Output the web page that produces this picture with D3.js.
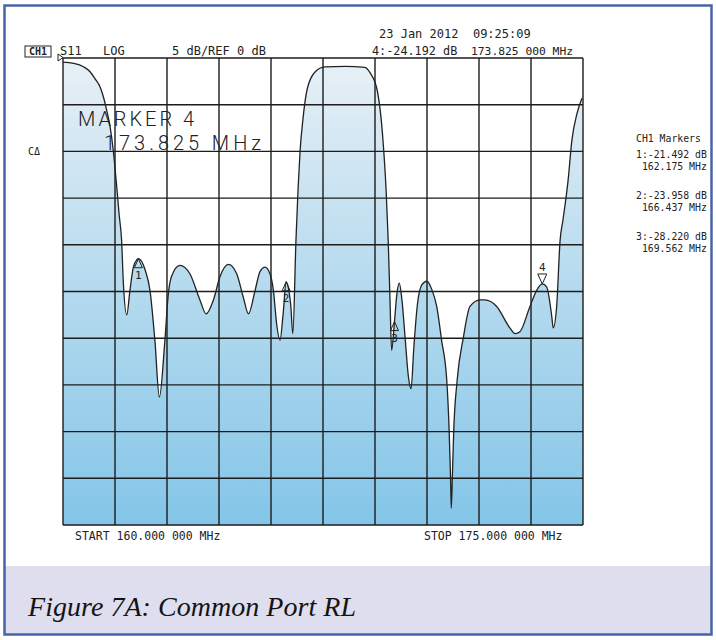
<!DOCTYPE html>
<html>
<head>
<meta charset="utf-8">
<script src="https://cdn.jsdelivr.net/npm/d3@7"></script>
<style>
  body { margin: 0; background: #ffffff; }
  svg { display: block; }
  .mono { font-family: "DejaVu Sans Mono", "Liberation Mono", monospace; fill: #222; white-space: pre; }
</style>
</head>
<body>
<svg></svg>
<script>
var width = 716;
var height = 640;

var freqs = [160.00, 160.30, 160.59, 160.78, 160.92, 161.07, 161.16, 161.26, 161.36, 161.45,
             161.55, 161.62, 161.69, 161.74, 161.84, 161.93, 162.03, 162.13, 162.175, 162.37,
             162.51, 162.65, 162.78, 162.94, 163.04, 163.13, 163.37, 163.66, 163.95, 164.13,
             164.34, 164.53, 164.77, 165.01, 165.20, 165.35, 165.54, 165.68, 165.83, 165.97,
             166.07, 166.16, 166.26, 166.35, 166.437, 166.52, 166.57, 166.63, 166.72, 166.78,
             166.84, 166.92, 167.04, 167.27, 167.56, 168.13, 168.71, 168.86, 169.06, 169.23,
             169.32, 169.38, 169.43, 169.48, 169.562, 169.63, 169.70, 169.78, 169.87, 169.96,
             170.04, 170.12, 170.22, 170.35, 170.50, 170.64, 170.78, 170.92, 171.07, 171.14,
             171.18, 171.20, 171.23, 171.27, 171.37, 171.55, 171.74, 172.03, 172.17, 172.51,
             172.89, 173.04, 173.18, 173.47, 173.66, 173.825, 173.95, 174.10, 174.14, 174.24,
             174.34, 174.42, 174.57, 174.68, 174.83, 174.97];
var dbs = [-0.45, -0.57, -0.93, -1.47, -2.2, -3.1, -4.1, -5.6, -7.4, -9.9,
           -13.8, -16.8, -19.5, -24.0, -27.5, -24.9, -22.4, -21.6, -21.49, -22.7,
           -24.9, -30.2, -36.3, -30.2, -25.2, -23.4, -22.2, -23.1, -25.9, -27.4,
           -25.9, -23.4, -22.1, -23.1, -25.6, -27.4, -24.9, -22.9, -22.4, -23.1,
           -24.9, -28.4, -30.2, -27.4, -23.96, -25.0, -26.5, -29.5, -19.5, -14.1,
           -9.9, -6.6, -3.4, -1.5, -0.96, -0.9, -1.0, -1.6, -3.4, -8.8,
           -14.1, -19.5, -25.5, -31.3, -28.22, -25.3, -24.1, -26.0, -30.0, -34.0,
           -35.4, -31.0, -26.5, -24.3, -23.9, -24.8, -26.6, -30.2, -34.5, -40.0,
           -45.0, -48.2, -45.0, -40.0, -34.5, -29.9, -26.6, -25.9, -25.9, -26.6,
           -28.9, -29.5, -29.3, -26.6, -24.9, -24.192, -24.5, -27.7, -28.9, -26.6,
           -19.5, -17.4, -13.1, -8.8, -5.9, -4.3];

var markerIds = ["1", "2", "3", "4"];
var markerFreqs = [162.175, 166.437, 169.562, 173.825];
var markerDbs = [-21.492, -23.958, -28.220, -24.192];

var gridFreqs = d3.range(0, 11).map(i => 160 + i * 1.5);
var gridDbs = d3.range(0, 11).map(i => -5 * i);

var headerTexts = ["S11", "LOG", "5 dB/REF 0 dB", "23 Jan 2012  09:25:09", "4:-24.192 dB", "173.825 000 MHz"];
var markerListTexts = ["CH1 Markers", "1:-21.492 dB", " 162.175 MHz", "2:-23.958 dB", " 166.437 MHz", "3:-28.220 dB", " 169.562 MHz"];
var footerTexts = ["START 160.000 000 MHz", "STOP 175.000 000 MHz"];
var bigMarkerTexts = ["MARKER 4", "173.825 MHz"];
var caption = "Figure 7A: Common Port RL";

var trace = freqs.map((f, i) => ({ f: f, db: dbs[i] }));

// prettier-ignore
var svg = d3.select("svg")
              .attr("width", width)
              .attr("height", height);

// prettier-ignore
var x = d3.scaleLinear()
          .domain([160, 175])
          .range([63, 583]);

// prettier-ignore
var y = d3.scaleLinear()
          .domain([0, -50])
          .range([58, 525]);

// page frame and caption band
svg.append("rect")
   .attr("x", 5).attr("y", 566)
   .attr("width", 707).attr("height", 68)
   .attr("fill", "#dedeee");

svg.append("rect")
   .attr("x", 4.5).attr("y", 5.5)
   .attr("width", 707).attr("height", 629)
   .attr("fill", "none")
   .attr("stroke", "#4863a6")
   .attr("stroke-width", 2.5);

svg.append("text")
   .attr("x", 28).attr("y", 616)
   .attr("font-family", "'Liberation Serif', serif")
   .attr("font-style", "italic")
   .attr("font-size", 28)
   .attr("fill", "#141414")
   .attr("textLength", 328)
   .text(caption);

// plot background gradient
var grad = svg.append("defs")
  .append("linearGradient")
    .attr("id", "bg")
    .attr("x1", 0).attr("y1", 0)
    .attr("x2", 0).attr("y2", 1);
grad.append("stop").attr("offset", "0%").attr("stop-color", "#e8f0f6");
grad.append("stop").attr("offset", "45%").attr("stop-color", "#b9dcef");
grad.append("stop").attr("offset", "100%").attr("stop-color", "#84c5e8");

svg.append("rect")
   .attr("x", x(160)).attr("y", y(0))
   .attr("width", x(175) - x(160))
   .attr("height", y(-50) - y(0))
   .attr("fill", "url(#bg)");

// white region above the trace
// prettier-ignore
var above = d3.area()
              .x(d => x(d.f))
              .y0(y(0))
              .y1(d => y(d.db))
              .curve(d3.curveMonotoneX);

svg.append("path")
   .datum(trace)
   .attr("d", above)
   .attr("fill", "#ffffff");

// grid
// prettier-ignore
svg.append("g")
  .selectAll("line")
  .data(gridFreqs)
  .enter()
    .append("line")
    .attr("x1", d => x(d)).attr("x2", d => x(d))
    .attr("y1", y(0)).attr("y2", y(-50))
    .attr("stroke", "#1c1c1c")
    .attr("stroke-width", 1.4);

// prettier-ignore
svg.append("g")
  .selectAll("line")
  .data(gridDbs)
  .enter()
    .append("line")
    .attr("x1", x(160)).attr("x2", x(175))
    .attr("y1", d => y(d)).attr("y2", d => y(d))
    .attr("stroke", "#1c1c1c")
    .attr("stroke-width", 1.4);

// trace
// prettier-ignore
var line = d3.line()
             .x(d => x(d.f))
             .y(d => y(d.db))
             .curve(d3.curveMonotoneX);

svg.append("path")
   .datum(trace)
   .attr("d", line)
   .attr("fill", "none")
   .attr("stroke", "#222")
   .attr("stroke-width", 1.3);

// reference position arrow
svg.append("path")
   .attr("d", "M" + (x(160) - 5) + "," + (y(0) - 4) + "l5,3.5l-5,3.5z")
   .attr("fill", "none")
   .attr("stroke", "#222");

// markers: 1-3 sit below the trace, active marker 4 above it
markerIds.forEach(function(id, i) {
  var mx = x(markerFreqs[i]);
  var my = y(markerDbs[i]);
  var active = id === "4";
  var d = active
    ? "M" + mx + "," + my + "l-4.5,-10h9z"
    : "M" + mx + "," + my + "l-4,9h8z";
  svg.append("path")
     .attr("d", d)
     .attr("fill", "none")
     .attr("stroke", "#222")
     .attr("stroke-width", 1);
  svg.append("text")
     .attr("class", "mono")
     .attr("x", mx)
     .attr("y", active ? my - 13 : my + 20)
     .attr("text-anchor", "middle")
     .attr("font-size", 11)
     .text(id);
});

// big active marker readout
svg.append("text")
   .attr("x", 78).attr("y", 126)
   .attr("font-family", "Roboto, 'Open Sans', sans-serif")
   .attr("font-weight", 300)
   .attr("font-size", 20)
   .attr("fill", "#222")
   .attr("textLength", 116)
   .text(bigMarkerTexts[0]);

svg.append("text")
   .attr("x", 104).attr("y", 150)
   .attr("font-family", "Roboto, 'Open Sans', sans-serif")
   .attr("font-weight", 300)
   .attr("font-size", 20)
   .attr("fill", "#222")
   .attr("textLength", 157)
   .text(bigMarkerTexts[1]);

// header
svg.append("rect")
   .attr("x", 25).attr("y", 46)
   .attr("width", 26).attr("height", 11)
   .attr("fill", "none")
   .attr("stroke", "#222");

svg.append("text")
   .attr("class", "mono")
   .attr("x", 38).attr("y", 55)
   .attr("text-anchor", "middle")
   .attr("font-size", 10)
   .attr("font-weight", "bold")
   .text("CH1");

var headerX = [60, 103, 172, 379, 372, 471];
var headerY = [55, 55, 55, 38, 55, 55];
var headerSize = [12, 12, 12, 12, 11.8, 11.3];
// prettier-ignore
svg.append("g")
  .selectAll("text")
  .data(headerTexts)
  .enter()
    .append("text")
    .attr("class", "mono")
    .attr("x", (d, i) => headerX[i])
    .attr("y", (d, i) => headerY[i])
    .attr("font-size", (d, i) => headerSize[i])
    .text(d => d);

svg.append("text")
   .attr("class", "mono")
   .attr("x", 28).attr("y", 155)
   .attr("font-size", 10)
   .text("C\u0394");

var listY = [142, 158, 169.5, 199, 210.5, 240, 251.5];
// prettier-ignore
svg.append("g")
  .selectAll("text")
  .data(markerListTexts)
  .enter()
    .append("text")
    .attr("class", "mono")
    .attr("x", 636)
    .attr("y", (d, i) => listY[i])
    .attr("font-size", 9.8)
    .text(d => d);

var footerX = [75, 424];
// prettier-ignore
svg.append("g")
  .selectAll("text")
  .data(footerTexts)
  .enter()
    .append("text")
    .attr("class", "mono")
    .attr("x", (d, i) => footerX[i])
    .attr("y", 540)
    .attr("font-size", 11.5)
    .text(d => d);
</script>
</body>
</html>
